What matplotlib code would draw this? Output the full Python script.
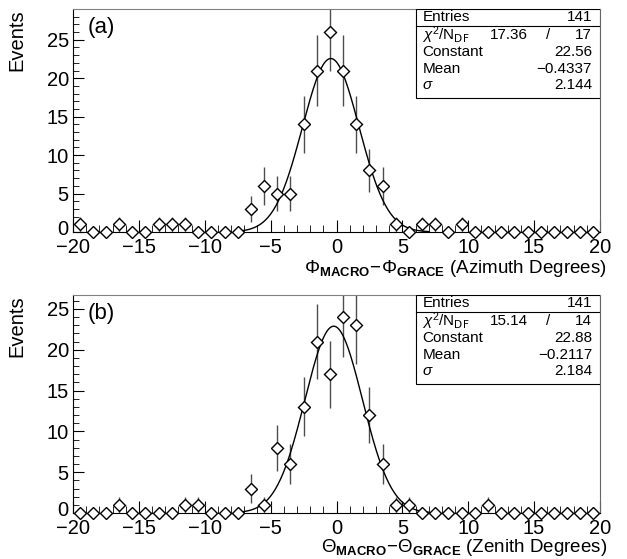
import numpy as np
import matplotlib
matplotlib.use("Agg")
import matplotlib.pyplot as plt
import matplotlib.transforms as mtransforms
from matplotlib.ticker import MultipleLocator, FixedLocator

plt.rcParams['font.family'] = ['Liberation Sans', 'DejaVu Sans']
plt.rcParams['mathtext.fontset'] = 'custom'
plt.rcParams['mathtext.rm'] = 'Liberation Sans'
plt.rcParams['mathtext.it'] = 'Liberation Sans:italic'
plt.rcParams['mathtext.bf'] = 'Liberation Sans:bold'

bin_centers = np.arange(-19.5, 20, 1.0)

counts_a = [1, 0, 0, 1, 0, 0, 1, 1, 1, 0, 0, 0, 0, 3, 6, 5, 5, 14, 21, 26,
            21, 14, 8, 6, 1, 0, 1, 1, 0, 1, 0, 0, 0, 0, 0, 0, 0, 0, 0, 0]
counts_b = [0, 0, 0, 1, 0, 0, 0, 0, 1, 1, 0, 0, 0, 3, 1, 8, 6, 13, 21, 17,
            24, 23, 12, 6, 1, 1, 0, 0, 0, 0, 0, 1, 0, 0, 0, 0, 0, 0, 0, 0]

fit_a = dict(entries=141, chi2="17.36", ndf="17", const=22.56, mean=-0.4337, sigma=2.144)
fit_b = dict(entries=141, chi2="15.14", ndf="14", const=22.88, mean=-0.2117, sigma=2.184)
fit_range = (-7.5, 7.0)

panel_labels = ["(a)", "(b)"]
xlabels = [r"$\Phi_{\mathbf{MACRO}}\!-\!\Phi_{\mathbf{GRACE}}$ (Azimuth Degrees)",
           r"$\Theta_{\mathbf{MACRO}}\!-\!\Theta_{\mathbf{GRACE}}$ (Zenith Degrees)"]
xtick_vals = [-20, -15, -10, -5, 0, 5, 10, 15, 20]
xtick_labels = ['\u221220', '\u221215', '\u221210', '\u22125', '0', '5', '10', '15', '20']
ytick_vals = [0, 5, 10, 15, 20, 25]
ylims = [29.0, 26.7]

W, H = 627, 559
fig = plt.figure(figsize=(W / 100, H / 100), dpi=100)

def ax_rect(l, t, r, b):
    return [l / W, 1 - b / H, (r - l) / W, (b - t) / H]

rects_px = [(73, 9, 600, 232), (73, 295, 600, 513)]
xlabel_offsets = [36.0, 35.0]

for i, (counts, fit) in enumerate([(counts_a, fit_a), (counts_b, fit_b)]):
    l, t, r, b = rects_px[i]
    ax = fig.add_axes(ax_rect(l, t, r, b))
    c = np.array(counts, dtype=float)
    yerr = np.sqrt(c)
    eb = ax.errorbar(bin_centers, c, xerr=0.5, fmt='none', ecolor='0.5', elinewidth=0.8,
                     capsize=0, zorder=2)
    eb.lines[2][0].set_linestyle((0, (2, 1.5)))
    nz = c > 0
    ax.errorbar(bin_centers[nz], c[nz], yerr=yerr[nz], fmt='none', ecolor='0.3',
                elinewidth=1.0, capsize=0, zorder=2)
    xs = np.linspace(fit_range[0], fit_range[1], 300)
    ys = fit['const'] * np.exp(-0.5 * ((xs - fit['mean']) / fit['sigma']) ** 2)
    ax.plot(xs, ys, color='black', lw=1.0, zorder=3)
    ax.plot(bin_centers, c, linestyle='none', marker='D', markersize=5.8,
            markerfacecolor='white', markeredgecolor='black', markeredgewidth=1.0,
            zorder=4, clip_on=False)
    ax.set_xlim(-20, 20)
    ax.set_ylim(0, ylims[i])
    ax.xaxis.set_minor_locator(MultipleLocator(1))
    ax.yaxis.set_minor_locator(MultipleLocator(1))
    ax.tick_params(axis='both', which='both', direction='in', labelsize=14.5,
                   top=False, right=False)
    ax.tick_params(axis='x', which='major', length=9, width=0.8, pad=4)
    ax.tick_params(axis='x', which='minor', length=5, width=0.6)
    ax.tick_params(axis='y', which='major', length=8, width=0.8, pad=3)
    ax.tick_params(axis='y', which='minor', length=4, width=0.6)
    ax.set_xticks(xtick_vals)
    ax.set_xticklabels(xtick_labels)
    ax.set_yticks(ytick_vals)
    ax.set_yticklabels([str(v) for v in ytick_vals])
    # nudge the "0" y label up slightly, as in the reference
    lab0 = ax.yaxis.get_major_ticks()[0].label1
    lab0.set_transform(lab0.get_transform() +
                       mtransforms.ScaledTranslation(0, 3 / 72, fig.dpi_scale_trans))
    for sp in ax.spines.values():
        sp.set_linewidth(0.8)
    ax.spines['top'].set_color('0.5')
    ax.spines['right'].set_color('0.4')
    ax.set_ylabel("Events", fontsize=14.5)
    ax.yaxis.label.set_ha('right')
    ax.yaxis.set_label_coords(-0.088, 1.0)
    ax.set_xlabel(xlabels[i], fontsize=13.5)
    ax.xaxis.label.set_ha('right')
    ax.xaxis.label.set_va('center')
    ax.xaxis.set_label_coords((607 - l) / (r - l), -xlabel_offsets[i] / (b - t))
    ax.text(0.028, 0.965, panel_labels[i], transform=ax.transAxes, fontsize=16,
            ha='left', va='top')

    # statistics box
    x0 = (416 - l) / (r - l)
    axh = b - t
    h = 89 / axh
    y0 = 1 - h
    box = plt.Rectangle((x0, y0), 1 - x0, h, transform=ax.transAxes, fill=True,
                        facecolor='white', edgecolor='black', lw=0.8, zorder=5)
    ax.add_patch(box)
    row = h / 5.3
    ysep = 1 - row * 1.0
    ax.plot([x0, 1], [ysep, ysep], transform=ax.transAxes, color='black', lw=0.8, zorder=6)
    tx_l = x0 + 0.012
    tx_r = 0.985
    fs = 11
    rows_y = [1 - row * 0.5, 1 - row * 1.55, 1 - row * 2.55, 1 - row * 3.55, 1 - row * 4.55]
    kw = dict(transform=ax.transAxes, fontsize=fs, va='center', zorder=7)
    ax.text(tx_l, rows_y[0], "Entries", **kw)
    ax.text(tx_r, rows_y[0], str(fit['entries']), ha='right', **kw)
    ax.text(tx_l, rows_y[1], r"$\chi^2/\mathrm{N}_{\mathsf{DF}}$", **kw)
    ax.text(x0 + 0.40 * (1 - x0), rows_y[1], fit['chi2'], ha='left', **kw)
    ax.text(x0 + 0.72 * (1 - x0), rows_y[1], "/", ha='center', **kw)
    ax.text(tx_r, rows_y[1], fit['ndf'], ha='right', **kw)
    ax.text(tx_l, rows_y[2], "Constant", **kw)
    ax.text(tx_r, rows_y[2], f"{fit['const']:.2f}", ha='right', **kw)
    ax.text(tx_l, rows_y[3], "Mean", **kw)
    ax.text(tx_r, rows_y[3], f"\u2212{abs(fit['mean']):.4f}", ha='right', **kw)
    ax.text(tx_l, rows_y[4], r"$\sigma$", **kw)
    ax.text(tx_r, rows_y[4], f"{fit['sigma']:.3f}", ha='right', **kw)

fig.savefig("out.png", dpi=100)
